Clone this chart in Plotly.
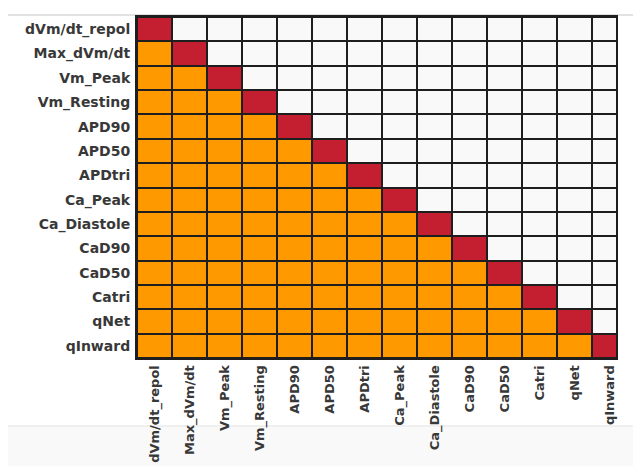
import plotly.graph_objects as go

features = ["dVm/dt_repol", "Max_dVm/dt", "Vm_Peak", "Vm_Resting", "APD90", "APD50",
            "APDtri", "Ca_Peak", "Ca_Diastole", "CaD90", "CaD50", "Catri", "qNet", "qInward"]

# cell category: 0 = empty (upper), 1 = diagonal, 2 = lower triangle
cell_state = [
    [1, 0, 0, 0, 0, 0, 0, 0, 0, 0, 0, 0, 0, 0],
    [2, 1, 0, 0, 0, 0, 0, 0, 0, 0, 0, 0, 0, 0],
    [2, 2, 1, 0, 0, 0, 0, 0, 0, 0, 0, 0, 0, 0],
    [2, 2, 2, 1, 0, 0, 0, 0, 0, 0, 0, 0, 0, 0],
    [2, 2, 2, 2, 1, 0, 0, 0, 0, 0, 0, 0, 0, 0],
    [2, 2, 2, 2, 2, 1, 0, 0, 0, 0, 0, 0, 0, 0],
    [2, 2, 2, 2, 2, 2, 1, 0, 0, 0, 0, 0, 0, 0],
    [2, 2, 2, 2, 2, 2, 2, 1, 0, 0, 0, 0, 0, 0],
    [2, 2, 2, 2, 2, 2, 2, 2, 1, 0, 0, 0, 0, 0],
    [2, 2, 2, 2, 2, 2, 2, 2, 2, 1, 0, 0, 0, 0],
    [2, 2, 2, 2, 2, 2, 2, 2, 2, 2, 1, 0, 0, 0],
    [2, 2, 2, 2, 2, 2, 2, 2, 2, 2, 2, 1, 0, 0],
    [2, 2, 2, 2, 2, 2, 2, 2, 2, 2, 2, 2, 1, 0],
    [2, 2, 2, 2, 2, 2, 2, 2, 2, 2, 2, 2, 2, 1],
]

WHITE = "#f9f9f9"
RED = "#c41f30"
ORANGE = "#fe9a00"
GRID = "#1e1e1e"

# page body has an 8px default margin on every side; keep the figure inside the viewport
OFF = 8
W, H = 641 - 2 * OFF, 474 - 2 * OFF
ML, MR, MT, MB = 137 - OFF, 641 - OFF - 616, 17 - OFF, 474 - OFF - 358

n = len(features)
colorscale = [[0.0, WHITE], [0.3333, WHITE], [0.3334, RED], [0.6666, RED], [0.6667, ORANGE], [1.0, ORANGE]]

fig = go.Figure(go.Heatmap(
    z=cell_state,
    x=list(range(n)),
    y=list(range(n)),
    zmin=0, zmax=2,
    colorscale=colorscale,
    showscale=False,
    xgap=2, ygap=2,
    hoverinfo="skip",
))

yfont = dict(family="DejaVu Sans", size=14, color="#383838", weight="bold")
xfont = dict(family="DejaVu Sans", size=13, color="#383838", weight="bold")

fig.update_xaxes(
    range=[-0.5, n - 1.5 + 0.69],
    tickmode="array", tickvals=list(range(n)), ticktext=features,
    tickangle=-90, ticks="", showgrid=False, zeroline=False,
    showline=True, linecolor=GRID, linewidth=2, mirror=True,
    tickfont=xfont, automargin=False,
    ticklabelstandoff=0,
)
fig.update_yaxes(
    range=[n - 0.5, -0.5],
    tickmode="array", tickvals=list(range(n)), ticktext=features,
    ticks="", showgrid=False, zeroline=False,
    showline=True, linecolor=GRID, linewidth=2, mirror=True,
    tickfont=yfont, automargin=False,
    ticklabelstandoff=2,
)

pw = W - ML - MR
ph = H - MT - MB

def px_x(p):
    return (p - OFF - ML) / pw

def px_y(p):
    return 1 - (p - OFF - MT) / ph

fig.update_layout(
    width=W, height=H,
    margin=dict(l=ML, r=MR, t=MT, b=MB),
    paper_bgcolor="white",
    plot_bgcolor=GRID,
    shapes=[
        dict(type="rect", xref="paper", yref="paper",
             x0=px_x(0), x1=px_x(660), y0=px_y(480), y1=px_y(426),
             fillcolor="#f9f9fa", line=dict(width=0), layer="below"),
        dict(type="line", xref="paper", yref="paper",
             x0=px_x(7), x1=px_x(660), y0=px_y(15), y1=px_y(15),
             line=dict(color="#d8d8d8", width=1.5), layer="below"),
        dict(type="line", xref="paper", yref="paper",
             x0=px_x(0), x1=px_x(660), y0=px_y(426), y1=px_y(426),
             line=dict(color="#ebebeb", width=1.5), layer="below"),
    ],
)

fig.write_html("out.html")
